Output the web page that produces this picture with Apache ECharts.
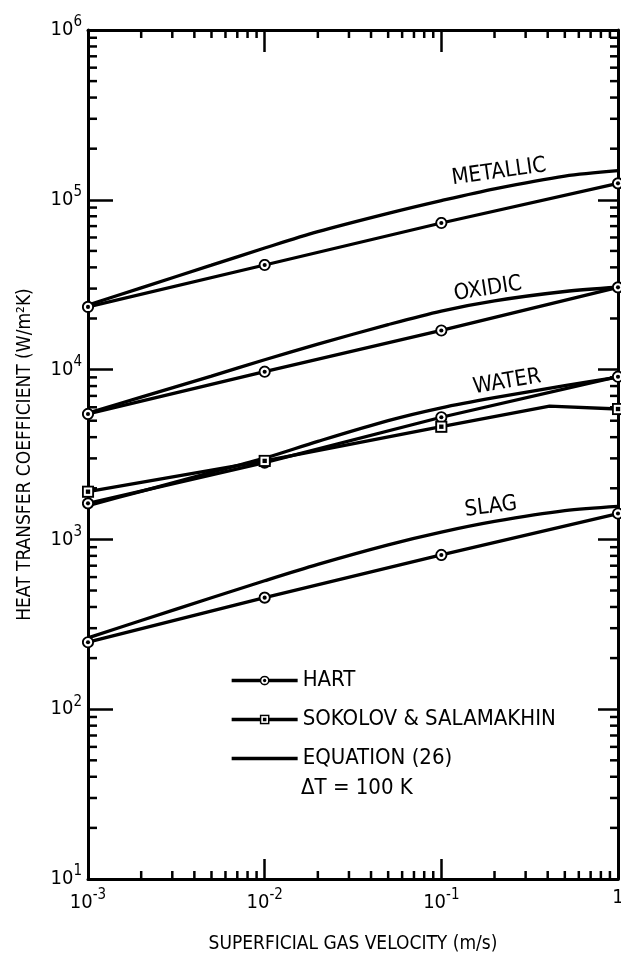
<!DOCTYPE html>
<html>
<head>
<meta charset="utf-8">
<script src="https://cdn.jsdelivr.net/npm/echarts@6/dist/echarts.min.js"></script>
<style>
  html, body { margin: 0; padding: 0; background: #fff; }
  #chart { width: 621px; height: 957px; }
</style>
</head>
<body>
<div id="chart"></div>
<script>
  var FONT = "'DejaVu Sans Condensed', 'Liberation Sans Narrow', sans-serif";

  // Hart data (circles)
  var hartVelocity = [0.001, 0.01, 0.1, 1];
  var hartMetallic = [23400, 41300, 73000, 125000];
  var hartOxidic = [5480, 9720, 17000, 30500];
  var hartWater = [1630, 2830, 5240, 9080];
  var hartSlag = [248, 454, 810, 1420];

  // Sokolov & Salamakhin (squares), water only
  var sokolovVelocity = [0.001, 0.01, 0.1, 0.41, 1];
  var sokolovWater = [1910, 2900, 4610, 6100, 5860];
  var sokolovMarked = [true, true, true, false, true];

  // Equation (26), dT = 100 K
  var eqVelocity = [0.001, 0.002, 0.005, 0.01, 0.02, 0.05, 0.1, 0.2, 0.5, 1];
  var eqMetallic = [24000, 30300, 41200, 52000, 64900, 83200, 98900, 116100, 138000, 148600];
  var eqOxidic = [5550, 6890, 9160, 11430, 14130, 18410, 22130, 25410, 28840, 30550];
  var eqWater = [1580, 1920, 2480, 3010, 3780, 5010, 5960, 6840, 8040, 9020];
  var eqSlag = [263, 333, 453, 571, 713, 929, 1104, 1276, 1479, 1567];

  // axis ticks
  var xDecades = [0.001, 0.01, 0.1];
  var yDecades = [10, 100, 1000, 10000, 100000];
  var minorSteps = [2, 3, 4, 5, 6, 7, 8, 9];

  function pairs(xs, ys) {
    return xs.map(function (x, i) { return [x, ys[i]]; });
  }

  function svgIcon(body) {
    var svg = "<svg xmlns='http://www.w3.org/2000/svg' width='24' height='24' viewBox='0 0 24 24'>" + body + "</svg>";
    return 'image://data:image/svg+xml;charset=utf-8,' + encodeURIComponent(svg);
  }
  var circleIcon = svgIcon("<circle cx='12' cy='12' r='9.5' fill='white' stroke='black' stroke-width='3.5'/><circle cx='12' cy='12' r='3.8' fill='black'/>");
  var squareIcon = svgIcon("<rect x='2.5' y='2.5' width='19' height='19' fill='white' stroke='black' stroke-width='3.5'/><rect x='8' y='8' width='8' height='8' fill='black'/>");

  var xMinor = [];
  xDecades.forEach(function (d) { minorSteps.forEach(function (k) { xMinor.push([d * k, 10]); }); });
  var yMinor = [];
  yDecades.forEach(function (d) { minorSteps.forEach(function (k) { yMinor.push([0.001, d * k]); }); });

  function powLabel(v) {
    var e = Math.round(Math.log10(v));
    if (e === 0) return '{b|1}';
    return '{b|10}{e|' + e + '}';
  }
  var labelRich = {
    b: { fontSize: 20, fontFamily: FONT, color: '#000' },
    e: { fontSize: 15, fontFamily: FONT, color: '#000', padding: [0, 0, 15, 0] }
  };

  var lineStyle = { color: '#000', width: 3.3 };

  function hartSeries(ys) {
    return {
      type: 'line', name: 'HART', data: pairs(hartVelocity, ys),
      symbol: circleIcon, symbolSize: 13, lineStyle: lineStyle,
      itemStyle: { color: '#000' }, z: 4, animation: false
    };
  }
  function eqSeries(ys) {
    return {
      type: 'line', name: 'EQUATION (26)', data: pairs(eqVelocity, ys),
      symbol: 'none', smooth: 0.3, lineStyle: lineStyle,
      itemStyle: { color: '#000' }, z: 3, animation: false
    };
  }

  var sokolovData = sokolovVelocity.map(function (x, i) {
    return sokolovMarked[i] ? { value: [x, sokolovWater[i]] } : { value: [x, sokolovWater[i]], symbol: 'none' };
  });

  var chart = echarts.init(document.getElementById('chart'));
  chart.setOption({
    backgroundColor: '#fff',
    animation: false,
    grid: { left: 88, right: 3, top: 30, bottom: 78, containLabel: false, outerBoundsMode: 'none' },
    legend: {
      data: [
        'HART',
        'SOKOLOV & SALAMAKHIN',
        { name: 'EQUATION (26)', itemStyle: { color: 'rgba(0,0,0,0)', borderWidth: 0 } }
      ],
      orient: 'vertical', left: 230, top: 669, padding: 0,
      itemWidth: 66, itemHeight: 13, itemGap: 16,
      selectedMode: false,
      lineStyle: { color: '#000', width: 3.3 },
      textStyle: { fontFamily: FONT, fontSize: 22, color: '#000', lineHeight: 23 }
    },
    xAxis: [{
      type: 'log', logBase: 10, min: 0.001, max: 1, splitNumber: 3, position: 'bottom',
      axisLine: { lineStyle: { color: '#000', width: 3 } },
      axisTick: { inside: true, length: 20, lineStyle: { color: '#000', width: 2.5 } },
      splitLine: { show: false },
      axisLabel: { formatter: powLabel, rich: labelRich, margin: 9 },
      name: 'SUPERFICIAL GAS VELOCITY (m/s)', nameLocation: 'middle', nameGap: 56,
      nameTextStyle: { fontFamily: FONT, fontSize: 19, color: '#000' }
    }, {
      type: 'log', logBase: 10, min: 0.001, max: 1, splitNumber: 3, position: 'top',
      axisLine: { lineStyle: { color: '#000', width: 3 } },
      axisTick: { inside: true, length: 22, lineStyle: { color: '#000', width: 2.5 } },
      splitLine: { show: false }, axisLabel: { show: false }
    }],
    yAxis: [{
      type: 'log', logBase: 10, min: 10, max: 1000000, splitNumber: 5, position: 'left',
      axisLine: { lineStyle: { color: '#000', width: 3 } },
      axisTick: { inside: true, length: 25, lineStyle: { color: '#000', width: 2.5 } },
      splitLine: { show: false },
      axisLabel: { formatter: powLabel, rich: labelRich, margin: 6 },
      name: 'HEAT TRANSFER COEFFICIENT (W/m\u00B2K)', nameLocation: 'middle', nameGap: 53,
      nameRotate: 90,
      nameTextStyle: { fontFamily: FONT, fontSize: 19, color: '#000' }
    }, {
      type: 'log', logBase: 10, min: 10, max: 1000000, splitNumber: 5, position: 'right',
      axisLine: { lineStyle: { color: '#000', width: 3 } },
      axisTick: { inside: true, length: 20, lineStyle: { color: '#000', width: 2.5 } },
      splitLine: { show: false }, axisLabel: { show: false }
    }],
    series: [
      eqSeries(eqMetallic), eqSeries(eqOxidic), eqSeries(eqWater), eqSeries(eqSlag),
      hartSeries(hartMetallic), hartSeries(hartOxidic), hartSeries(hartWater), hartSeries(hartSlag),
      {
        type: 'line', name: 'SOKOLOV & SALAMAKHIN', data: sokolovData,
        symbol: squareIcon, symbolSize: 13, lineStyle: lineStyle,
        itemStyle: { color: '#000' }, z: 4, animation: false
      },
      {
        type: 'custom', data: xMinor, silent: true, clip: false, z: 2,
        renderItem: function (params, api) {
          var b = api.coord([api.value(0), 10]);
          var t = api.coord([api.value(0), 1000000]);
          return { type: 'group', children: [
            { type: 'line', shape: { x1: b[0], y1: b[1], x2: b[0], y2: b[1] - 8 }, style: { stroke: '#000', lineWidth: 2.5 } },
            { type: 'line', shape: { x1: t[0], y1: t[1], x2: t[0], y2: t[1] + 8 }, style: { stroke: '#000', lineWidth: 2.5 } }
          ] };
        }
      },
      {
        type: 'custom', data: yMinor, silent: true, clip: false, z: 2,
        renderItem: function (params, api) {
          var l = api.coord([0.001, api.value(1)]);
          var r = api.coord([1, api.value(1)]);
          return { type: 'group', children: [
            { type: 'line', shape: { x1: l[0], y1: l[1], x2: l[0] + 9, y2: l[1] }, style: { stroke: '#000', lineWidth: 2.5 } },
            { type: 'line', shape: { x1: r[0], y1: r[1], x2: r[0] - 8, y2: r[1] }, style: { stroke: '#000', lineWidth: 2.5 } }
          ] };
        }
      }
    ],
    graphic: [
      { type: 'text', x: 499, y: 172, rotation: 8 * Math.PI / 180,
        style: { text: 'METALLIC', font: '22px ' + FONT, fill: '#000', align: 'center', verticalAlign: 'middle' } },
      { type: 'text', x: 488, y: 289, rotation: 9 * Math.PI / 180,
        style: { text: 'OXIDIC', font: '22px ' + FONT, fill: '#000', align: 'center', verticalAlign: 'middle' } },
      { type: 'text', x: 507, y: 382, rotation: 9.5 * Math.PI / 180,
        style: { text: 'WATER', font: '22px ' + FONT, fill: '#000', align: 'center', verticalAlign: 'middle' } },
      { type: 'text', x: 491, y: 507, rotation: 7 * Math.PI / 180,
        style: { text: 'SLAG', font: '22px ' + FONT, fill: '#000', align: 'center', verticalAlign: 'middle' } },
      { type: 'text', x: 301, y: 788,
        style: { text: '\u0394T = 100 K', font: '22px ' + FONT, fill: '#000', align: 'left', verticalAlign: 'middle' } }
    ]
  });
</script>
</body>
</html>
